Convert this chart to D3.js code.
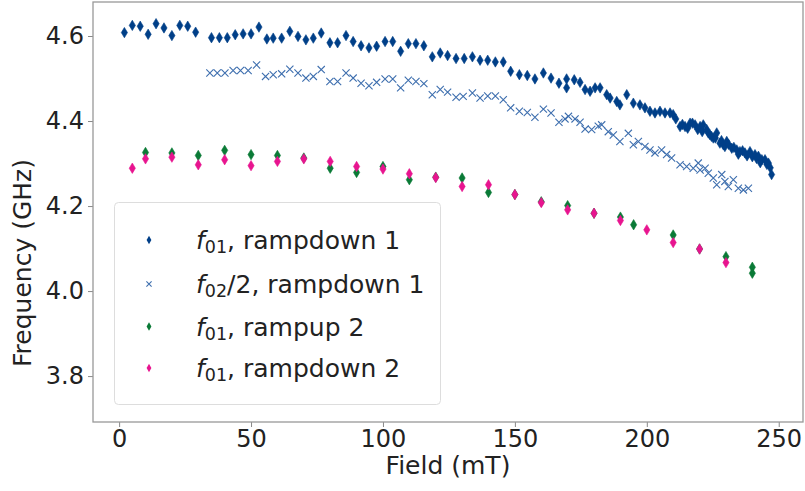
<!DOCTYPE html>
<html><head><meta charset="utf-8">
<script src="https://cdn.jsdelivr.net/npm/d3@7"></script>
<style>body{margin:0;background:#fff}svg{display:block;font-family:"DejaVu Sans",sans-serif}</style>
</head><body><svg id="c" width="805" height="491"></svg>
<script>
// f01, rampdown 1
const rd1Field = [2,5,8,11,14,17,20,23,26,29,
 35,38,41,44,47,50,53,56,
 58.4,61.6,64.7,67.8,70.8,73.6,76.6,79.9,82.8,86,88.7,91.7,94.7,97.6,100.8,103.7,106.7,109.6,112.5,115.5,118.7,121.7,124.5,
 127.7,130.8,133.9,136.8,139.7,142.6,145.6,148.4,151.7,154.7,157.6,160.8,163.7,166.7,169.6,169.6,172.5,174.7,176.6,178.5,180.4,182.3,184.8,186.1,188.6,
 189.8,192.4,194.9,197.4,199.3,201.2,203.1,205,206.9,208.8,210,211,212.6,213.5,214.5,215.5,216.4,217.3,218.3,219.3,220.2,221,221.4,222.7,223.3,223.9,224.5,225.2,226,226.5,227.7,228.3,229,229.6,230.3,231,232.2,233,234.1,234.7,235.3,236.3,237.2,238,239.1,240,241,241.6,242.3,243,243.6,244.8,245.5,246.1,246.8,247.3];
const rd1F01 = [4.608,4.625,4.623,4.604,4.629,4.619,4.601,4.625,4.623,4.609,
 4.596,4.596,4.596,4.603,4.605,4.605,4.621,4.593,
 4.595,4.595,4.611,4.599,4.591,4.595,4.607,4.584,4.584,4.601,4.587,4.577,4.572,4.576,4.587,4.587,4.564,4.582,4.582,4.577,4.551,4.560,4.554,
 4.547,4.547,4.551,4.543,4.543,4.539,4.539,4.517,4.509,4.507,4.499,4.513,4.501,4.489,4.499,4.478,4.497,4.491,4.474,4.470,4.478,4.478,4.462,4.454,4.446,
 4.438,4.462,4.442,4.438,4.431,4.423,4.419,4.423,4.419,4.419,4.415,4.405,4.387,4.392,4.387,4.383,4.395,4.395,4.391,4.380,4.387,4.375,4.391,4.380,4.372,4.368,4.364,4.360,4.360,4.372,4.348,4.354,4.344,4.340,4.352,4.345,4.336,4.338,4.332,4.322,4.328,4.330,4.325,4.318,4.328,4.316,4.321,4.312,4.317,4.302,4.309,4.309,4.298,4.301,4.290,4.274];

// f02/2, rampdown 1
const rd1Field2 = [34.4,37.2,40.1,43.2,46,48.9,52.1,55.5,
 58.4,61.6,64.7,67.8,70.8,73.6,76.6,79.9,82.8,86,88.7,91.7,94.7,97.6,100.8,103.7,106.7,109.6,112.5,115.5,118.7,121.7,124.5,
 127.7,130.4,133.9,136.8,139.7,142.6,145.6,148.4,151.7,154.7,157.6,160.8,163.7,166.7,169,170.3,172.8,174.7,176.6,179.1,181.6,
 182.9,185.4,187.3,189.8,193,194.9,196.8,199.3,201.2,203.1,205.6,207.5,209.4,212.6,215.1,217.6,219.5,220.2,222.1,223.3,225.2,226.5,228.4,229.6,230.9,232.8,234.7,236.6,238.5];
const rd1F02half = [4.513,4.513,4.513,4.519,4.519,4.519,4.532,4.505,
 4.509,4.511,4.522,4.513,4.501,4.505,4.521,4.493,4.493,4.513,4.501,4.489,4.483,4.491,4.499,4.499,4.478,4.496,4.493,4.488,4.462,4.474,4.468,
 4.456,4.458,4.466,4.454,4.459,4.459,4.450,4.431,4.423,4.420,4.409,4.428,4.419,4.397,4.405,4.411,4.405,4.397,4.381,4.380,4.388,
 4.391,4.375,4.367,4.352,4.371,4.344,4.352,4.340,4.332,4.325,4.332,4.321,4.313,4.297,4.293,4.289,4.301,4.285,4.289,4.277,4.266,4.250,4.274,4.258,4.246,4.262,4.242,4.238,4.242];

// f01, rampup 2
const ru2Field = [10,20,30,40,50,60,70,80,90,100,110,120,130,140,150,160,170,180,190,195,210,220,230,240,240];
const ru2F01 = [4.326,4.325,4.319,4.331,4.321,4.319,4.313,4.289,4.279,4.293,4.262,4.268,4.266,4.232,4.227,4.210,4.201,4.183,4.174,4.156,4.132,4.099,4.081,4.056,4.042];

// f01, rampdown 2
const rd2Field = [5,10,20,30,40,50,60,70,80,90,100,110,120,130,140,150,160,170,180,190,200,210,220,230];
const rd2F01 = [4.289,4.311,4.315,4.297,4.309,4.295,4.305,4.311,4.305,4.293,4.287,4.276,4.267,4.246,4.250,4.227,4.208,4.191,4.183,4.166,4.144,4.114,4.099,4.067];

const xTicks = [0,50,100,150,200,250];
const yTicks = [3.8,4.0,4.2,4.4,4.6];
const legendLabels = [["f","01",", rampdown 1"],["f","02","/2, rampdown 1"],["f","01",", rampup 2"],["f","01",", rampdown 2"]];

const svg = d3.select("#c");
const L=93,R=803,T=2,B=422;
const x = d3.scaleLinear().domain([-9.9,259.2]).range([L,R]);
const y = d3.scaleLinear().domain([3.692,4.68]).range([B,T]);

const cBlue="#003f88", cCross="#3d6eae", cGreen="#0a7a36", cPink="#e8148f";
const diamond = "M0,-5.2L3.1,0L0,5.2L-3.1,0Z";
const cross = "M-3.6,-3.6L3.6,3.6M-3.6,3.6L3.6,-3.6";

// axes
const xa = svg.append("g").attr("transform",`translate(0,${B})`)
  .call(d3.axisBottom(x).tickValues(xTicks).tickSize(5).tickPadding(3).tickFormat(d3.format("d")));
const ya = svg.append("g").attr("transform",`translate(${L},0)`)
  .call(d3.axisLeft(y).tickValues(yTicks).tickSize(5).tickPadding(4).tickFormat(d3.format(".1f")));
[xa,ya].forEach(a=>{
  a.select(".domain").remove();
  a.selectAll("line").attr("stroke","#888");
  a.selectAll("text").attr("fill","#222").style("font-size","24px").style("font-family","DejaVu Sans");
});
svg.append("rect").attr("x",L).attr("y",T).attr("width",R-L).attr("height",B-T)
  .attr("fill","none").attr("stroke","#999").attr("stroke-width",1.3);

function pts(xs,ys){return xs.map((v,i)=>[v,ys[i]]);}
function drawSeries(data,path,color,isCross){
  svg.append("g").selectAll("path").data(data).join("path")
    .attr("d",path)
    .attr("transform",d=>`translate(${x(d[0])},${y(d[1])})`)
    .attr("fill",isCross?"none":color)
    .attr("stroke",color).attr("stroke-width",isCross?1.1:0.6);
}
drawSeries(pts(rd1Field,rd1F01),diamond,cBlue,false);
drawSeries(pts(rd1Field2,rd1F02half),cross,cCross,true);
drawSeries(pts(ru2Field,ru2F01),diamond,cGreen,false);
drawSeries(pts(rd2Field,rd2F01),diamond,cPink,false);

// legend
const lg = svg.append("g");
lg.append("rect").attr("x",114.5).attr("y",202.5).attr("width",326).attr("height",202).attr("rx",4)
  .attr("fill","#fff").attr("fill-opacity",0.85).attr("stroke","#ddd").attr("stroke-width",1);
const lColors=[cBlue,cCross,cGreen,cPink];
const rowsY=[240,284,326.5,368];
legendLabels.forEach((lab,i)=>{
  const yy=rowsY[i];
  if(i===1){
    lg.append("path").attr("d","M-2.6,-2.6L2.6,2.6M-2.6,2.6L2.6,-2.6").attr("transform",`translate(149,${yy})`)
      .attr("stroke",lColors[i]).attr("stroke-width",1.1).attr("fill","none");
  } else {
    lg.append("path").attr("d","M0,-4.2L2.4,0L0,4.2L-2.4,0Z").attr("transform",`translate(149,${yy})`)
      .attr("fill",lColors[i]);
  }
  const t = lg.append("text").attr("x",196).attr("y",yy+9).attr("fill","#222")
    .style("font-size","25px");
  t.append("tspan").text(lab[0]).style("font-style","italic");
  t.append("tspan").text(lab[1]).attr("dy",4).style("font-size","17.5px");
  t.append("tspan").text(lab[2]).attr("dy",-4);
});

// axis labels
svg.append("text").attr("x",448).attr("y",474).attr("text-anchor","middle").attr("fill","#222")
  .style("font-size","25px").text("Field (mT)");
svg.append("text").attr("transform","translate(31,263) rotate(-90)").attr("text-anchor","middle").attr("fill","#222")
  .style("font-size","25px").text("Frequency (GHz)");
</script></body></html>
